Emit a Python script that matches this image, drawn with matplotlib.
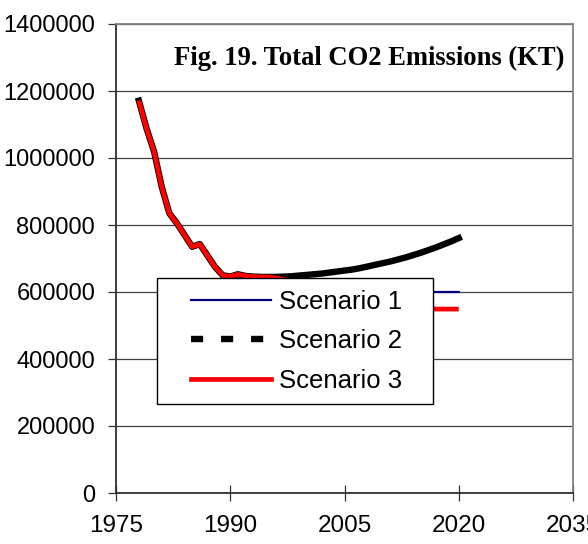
import matplotlib
matplotlib.use("Agg")
import matplotlib.pyplot as plt
from matplotlib.lines import Line2D
from matplotlib.legend_handler import HandlerLine2D
import numpy as np

# Historical emissions (KT) shared by all scenarios
hist_years = list(range(1978, 1996))
hist_vals = [1171000, 1089000, 1019000, 914000, 835000, 805000, 770000, 735000,
             743000, 709000, 675000, 650000, 646000, 653000, 648000, 646000,
             645000, 645000]

# Projections 1996-2020
proj_years = list(range(1996, 2021))
scen1 = [644000, 642000, 640000, 638000, 636000, 633000, 630000, 627000, 624000,
         621000, 618000, 615000, 612000, 610000, 608000, 606000, 604000, 603000,
         602000, 601000, 600000, 600000, 600000, 600000, 600000]
scen2 = [645000, 646000, 647000, 649000, 651000, 653000, 655000, 658000, 661000,
         664000, 667000, 671000, 676000, 681000, 686000, 691000, 697000, 703000,
         710000, 717000, 725000, 733000, 742000, 751000, 761000]
scen3 = [642000, 638000, 633000, 628000, 622000, 616000, 610000, 604000, 598000,
         592000, 587000, 582000, 577000, 572000, 567000, 563000, 559000, 556000,
         553000, 551000, 550000, 549000, 549000, 549000, 549000]

labels = ["Scenario 1", "Scenario 2", "Scenario 3"]

years = hist_years + proj_years
s1 = hist_vals + scen1
s2 = hist_vals + scen2
s3 = hist_vals + scen3


class PaddedLine(HandlerLine2D):
    # leave some blank space left of the legend line
    def get_xdata(self, legend, xdescent, ydescent, width, height, fontsize):
        pad = 0.86 * fontsize
        xdata = np.array([-xdescent + pad, -xdescent + width])
        return xdata, xdata


fig = plt.figure(figsize=(5.88, 5.44), dpi=100)
ax = fig.add_axes([116 / 588, 1 - 493 / 544, (573 - 116) / 588, (493 - 24) / 544])

ax.plot(years, s1, color="#000080", lw=1.6, zorder=3)
ax.plot(years, s2, color="black", lw=4.6, zorder=4)
ax.plot(years, s3, color="red", lw=3.4, zorder=5, solid_capstyle="butt")

ax.set_xlim(1975, 2035)
ax.set_ylim(0, 1400000)
ax.set_xticks([1975, 1990, 2005, 2020, 2035])
ax.set_yticks(range(0, 1400001, 200000))
ax.ticklabel_format(axis="y", style="plain", useOffset=False)
ax.yaxis.grid(True, color="#404040", lw=0.9)
ax.set_axisbelow(True)

ax.tick_params(axis="y", direction="out", length=6, width=0.9, pad=9,
               labelsize=17, colors="#303030", labelcolor="black")
ax.tick_params(axis="x", direction="inout", length=11, width=0.9, pad=10,
               labelsize=17.5, colors="#303030", labelcolor="black")
for lab in ax.get_xticklabels() + ax.get_yticklabels():
    lab.set_fontfamily("Liberation Sans")

ax.spines["left"].set_color("#303030")
ax.spines["bottom"].set_color("#303030")
ax.spines["top"].set_color("#808080")
ax.spines["right"].set_color("#808080")
for sp in ax.spines.values():
    sp.set_linewidth(1.3)

ax.text(0.982, 0.9275, "Fig. 19. Total CO2 Emissions (KT)", transform=ax.transAxes,
        ha="right", va="center", fontsize=19.2, fontweight="bold",
        family="Liberation Serif")

handles = [
    Line2D([], [], color="#000080", lw=1.6),
    Line2D([], [], color="black", lw=4.6, dashes=(1.9, 2.8), dash_capstyle="butt"),
    Line2D([], [], color="red", lw=3.4),
]
leg = ax.legend(handles, labels, loc="upper left",
                bbox_to_anchor=(0.0897, 0.192, 0.604, 0.266), mode="expand",
                borderaxespad=0, frameon=True, fancybox=False, framealpha=1,
                edgecolor="black", handlelength=3.97, handletextpad=0.32,
                labelspacing=0.6, borderpad=0.45,
                handler_map={Line2D: PaddedLine()},
                prop={"family": "Liberation Sans", "size": 18.5})
leg.get_frame().set_linewidth(1.0)
leg.set_zorder(10)

fig.savefig("out.png", dpi=100)
